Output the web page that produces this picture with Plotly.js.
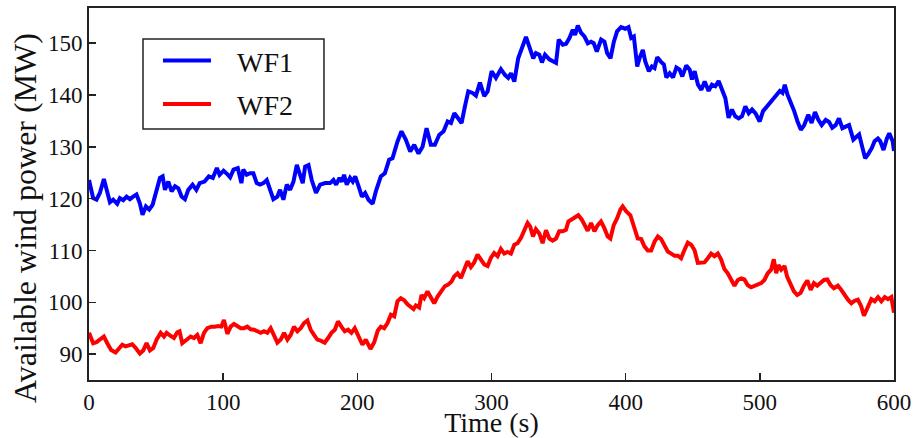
<!DOCTYPE html>
<html>
<head>
<meta charset="utf-8">
<script src="https://cdn.plot.ly/plotly-3.0.1.min.js"></script>
<style>html,body{margin:0;padding:0;background:#fff;}#chart{width:917px;height:438px;}</style>
</head>
<body>
<div id="chart"></div>
<script>
// Time (s) and available power (MW) for wind farm 1
const timeWF1 = [
  0, 3.1, 5.6, 8.1, 11.1, 13.1, 15.6, 18.0, 21.0, 23.0,
  25.5, 28.0, 30.5, 32.9, 35.4, 37.9, 39.9, 42.4, 44.9, 47.4,
  50.4, 52.9, 54.9, 56.6, 59.1, 61.6, 64.1, 66.6, 69.0, 71.5,
  74.0, 77.2, 80.0, 82.5, 86.1, 89.3, 92.3, 95.3, 97.3, 100.3,
  102.8, 105.2, 107.7, 110.9, 113.6, 115.0, 117.5, 120.0, 122.5, 125.0,
  127.5, 130.0, 132.5, 135.0, 137.4, 140.4, 142.4, 144.9, 147.4, 149.9,
  152.4, 154.9, 157.3, 159.3, 161.1, 163.6, 166.0, 169.2, 172.3, 176.0,
  179.7, 182.2, 184.2, 186.7, 188.4, 190.1, 192.1, 194.6, 196.6, 198.4,
  200.9, 203.4, 205.8, 208.3, 211.4, 213.8, 217.5, 220.5, 223.7, 226.2,
  229.9, 232.9, 236.1, 239.4, 242.4, 245.6, 248.6, 251.6, 254.8, 257.8,
  261.0, 264.3, 267.3, 269.8, 272.3, 274.7, 277.7, 280.2, 282.7, 285.9,
  288.4, 291.4, 294.6, 297.1, 300.1, 303.3, 307.0, 310.0, 312.5, 314.5,
  317.0, 319.9, 323.2, 325.7, 328.1, 331.1, 333.1, 335.6, 337.6, 339.9,
  343.1, 345.6, 348.1, 350.1, 353.1, 355.6, 358.1, 360.6, 362.3, 364.3,
  366.8, 369.3, 371.8, 374.2, 376.2, 378.5, 381.7, 384.2, 386.2, 388.7,
  391.2, 393.6, 396.6, 399.6, 402.1, 404.1, 406.1, 408.6, 410.3, 412.8,
  414.6, 417.3, 419.5, 421.5, 423.5, 426.0, 428.5, 430.3, 432.8, 435.3,
  437.8, 440.2, 442.2, 445.2, 447.7, 449.4, 451.4, 453.9, 456.4, 458.9,
  461.8, 464.3, 466.8, 469.3, 471.8, 474.3, 476.7, 479.2, 481.7, 484.2,
  486.7, 489.2, 491.7, 494.2, 496.7, 499.9, 502.4, 505.4, 508.6, 511.6,
  514.9, 516.9, 518.6, 520.6, 523.1, 525.6, 528.1, 530.6, 533.1, 536.1,
  538.6, 541.1, 543.6, 546.1, 549.1, 551.6, 554.0, 556.5, 559.0, 561.5,
  564.0, 566.5, 569.7, 572.2, 574.0, 576.5, 578.5, 581.0, 583.5, 585.5,
  588.0, 589.7, 592.2, 594.7, 596.5, 599.0, 600
];
const powerWF1 = [
  123.6, 120.1, 119.8, 121.1, 123.8, 121.7, 119.3, 119.8, 119.0, 120.1,
  119.7, 120.4, 119.9, 120.4, 120.8, 119.1, 116.9, 118.5, 117.9, 118.8,
  121.7, 124.0, 124.3, 121.7, 123.3, 121.4, 122.4, 122.0, 120.4, 119.9,
  121.7, 122.7, 121.7, 123.0, 123.3, 124.3, 124.0, 125.9, 124.6, 125.4,
  124.8, 124.1, 125.6, 125.9, 123.0, 125.6, 124.6, 124.9, 124.9, 123.0,
  122.7, 123.0, 123.6, 121.4, 119.9, 120.4, 121.7, 119.8, 122.7, 121.7,
  123.3, 126.5, 124.3, 123.0, 126.2, 126.5, 123.6, 121.1, 122.7, 123.0,
  123.0, 123.6, 122.7, 124.0, 123.3, 124.6, 122.7, 124.0, 123.3, 124.3,
  122.4, 120.4, 121.1, 119.8, 119.0, 121.4, 124.3, 124.9, 127.5, 127.8,
  131.0, 133.0, 131.4, 129.1, 130.4, 128.7, 130.0, 133.6, 130.4, 130.4,
  132.3, 133.0, 134.9, 134.6, 136.5, 135.5, 134.6, 137.8, 140.7, 140.4,
  139.9, 142.4, 139.8, 140.7, 144.6, 143.3, 145.0, 143.9, 143.3, 144.2,
  142.6, 147.1, 149.4, 151.2, 149.4, 147.1, 148.1, 147.8, 146.3, 147.8,
  146.9, 146.5, 146.2, 150.7, 149.7, 149.9, 151.0, 152.6, 151.6, 153.4,
  152.0, 151.3, 150.0, 150.3, 150.0, 148.4, 150.7, 150.3, 148.1, 147.1,
  150.3, 152.3, 153.1, 152.8, 153.1, 151.0, 151.3, 145.5, 147.1, 148.7,
  146.5, 144.6, 145.5, 145.2, 147.3, 146.5, 145.9, 143.4, 144.2, 143.4,
  145.3, 144.9, 143.6, 145.7, 144.9, 143.0, 144.6, 142.0, 141.0, 142.6,
  140.8, 142.0, 141.7, 142.7, 141.0, 139.4, 135.6, 137.2, 135.9, 135.5,
  135.9, 137.8, 136.5, 137.2, 136.5, 134.9, 136.9, 137.8, 138.8, 139.7,
  140.8, 140.4, 142.0, 140.1, 138.6, 136.9, 134.9, 133.3, 134.2, 136.2,
  134.6, 136.7, 135.2, 134.2, 135.2, 134.8, 133.7, 134.2, 135.5, 133.6,
  133.9, 134.2, 131.4, 132.0, 132.4, 129.8, 127.8, 128.7, 129.8, 131.1,
  131.6, 131.1, 129.4, 131.6, 132.6, 131.1, 129.2
];

// Time (s) and available power (MW) for wind farm 2
const timeWF2 = [
  0, 3.1, 5.6, 8.1, 11.1, 13.6, 16.5, 19.8, 22.3, 24.8,
  27.2, 29.7, 32.2, 34.7, 37.9, 40.4, 42.9, 45.4, 47.9, 50.4,
  53.4, 55.9, 57.8, 60.3, 63.3, 65.8, 67.5, 69.5, 72.8, 75.8,
  78.2, 80.7, 83.2, 85.7, 88.2, 91.2, 93.7, 96.1, 98.6, 100.6,
  103.1, 105.6, 108.1, 110.6, 113.1, 115.5, 118.0, 120.5, 123.0, 125.5,
  127.9, 130.4, 132.9, 135.4, 137.9, 140.4, 142.9, 145.4, 147.9, 150.3,
  152.8, 155.3, 157.8, 160.3, 162.8, 165.2, 167.7, 170.2, 172.7, 175.7,
  178.2, 180.7, 183.2, 185.6, 188.1, 190.6, 193.1, 195.6, 198.1, 200.6,
  203.8, 206.3, 209.8, 212.6, 215.2, 217.5, 220.0, 222.5, 225.0, 227.5,
  229.9, 232.4, 234.9, 237.4, 239.9, 241.9, 243.6, 246.1, 247.8, 249.8,
  252.3, 254.8, 257.3, 259.8, 262.2, 265.2, 267.7, 270.2, 272.2, 274.7,
  277.2, 279.7, 282.2, 284.6, 287.1, 289.6, 292.1, 294.6, 297.1, 299.6,
  302.0, 304.5, 307.0, 309.5, 312.0, 314.5, 317.0, 319.4, 321.9, 324.4,
  326.9, 328.9, 330.9, 333.1, 335.6, 338.1, 340.6, 343.1, 345.6, 348.1,
  350.5, 353.0, 355.5, 357.3, 359.8, 362.2, 364.7, 367.2, 369.7, 371.7,
  374.2, 376.7, 379.2, 381.6, 384.1, 386.6, 388.6, 391.1, 393.6, 396.1,
  397.8, 400.3, 403.5, 406.5, 409.0, 411.6, 414.0, 416.5, 419.0, 421.5,
  424.0, 426.4, 428.9, 431.4, 433.9, 436.4, 438.9, 441.3, 443.8, 446.3,
  448.8, 451.3, 453.8, 456.2, 458.7, 461.2, 463.7, 466.2, 468.7, 471.1,
  473.6, 476.1, 478.6, 481.1, 483.6, 486.1, 488.5, 491.0, 493.5, 496.0,
  498.5, 501.0, 503.4, 505.9, 508.4, 510.4, 512.2, 513.9, 515.9, 518.4,
  520.4, 522.9, 525.4, 527.9, 530.4, 532.9, 535.4, 537.9, 540.3, 542.8,
  545.3, 547.8, 550.3, 552.8, 555.2, 558.2, 560.7, 563.2, 565.7, 568.2,
  570.6, 573.1, 575.6, 577.6, 580.1, 583.1, 585.6, 588.1, 590.6, 593.1,
  595.5, 598.0, 600
];
const powerWF2 = [
  94.1, 92.1, 92.3, 92.8, 93.4, 92.1, 90.8, 90.3, 91.2, 91.8,
  91.5, 91.8, 91.9, 91.2, 90.1, 90.7, 92.1, 90.7, 91.2, 92.8,
  94.1, 93.4, 94.1, 93.6, 93.1, 94.2, 94.4, 92.1, 92.8, 93.4,
  93.1, 93.7, 92.1, 94.1, 95.0, 95.3, 95.3, 95.4, 95.3, 96.6,
  93.9, 95.3, 95.8, 95.3, 95.0, 95.0, 95.3, 94.8, 94.7, 94.4,
  94.1, 94.4, 94.1, 95.0, 93.6, 92.2, 92.8, 94.1, 92.8, 93.7,
  95.3, 94.4, 95.0, 96.0, 96.5, 94.7, 93.7, 92.8, 92.6, 92.2,
  93.1, 94.1, 94.7, 96.3, 95.3, 94.4, 94.7, 94.1, 95.0, 93.7,
  91.8, 92.8, 91.0, 92.3, 94.5, 95.3, 95.0, 96.0, 97.6, 97.3,
  100.2, 100.8, 100.4, 99.6, 99.2, 98.7, 99.4, 99.0, 101.4, 100.8,
  102.1, 100.8, 99.8, 101.1, 101.9, 103.1, 103.4, 104.0, 105.0, 105.6,
  104.7, 106.3, 107.9, 106.8, 107.7, 109.2, 108.3, 107.3, 107.0, 108.6,
  109.5, 108.9, 110.3, 109.4, 109.7, 109.4, 111.1, 111.4, 112.4, 113.7,
  115.3, 114.6, 112.7, 114.1, 113.3, 111.4, 113.9, 112.3, 111.9, 112.3,
  113.7, 113.7, 114.0, 115.6, 116.0, 116.6, 116.8, 116.0, 114.9, 113.8,
  115.3, 113.7, 114.9, 115.6, 114.3, 112.7, 112.3, 114.9, 116.2, 117.9,
  118.5, 117.6, 116.8, 114.3, 112.3, 112.2, 110.8, 110.0, 110.0, 111.7,
  112.7, 112.2, 111.1, 109.8, 109.4, 109.0, 109.0, 108.5, 110.1, 111.5,
  111.1, 110.1, 107.6, 107.6, 107.7, 108.5, 109.4, 108.9, 109.4, 108.3,
  106.4, 105.6, 104.3, 103.2, 104.3, 104.6, 104.4, 103.3, 102.9, 103.2,
  103.6, 103.7, 104.3, 105.6, 106.3, 108.3, 105.6, 107.2, 106.3, 107.0,
  104.9, 103.6, 102.1, 101.4, 101.8, 103.2, 104.2, 102.4, 103.7, 103.2,
  103.7, 104.3, 104.4, 103.3, 102.7, 103.2, 102.4, 101.4, 100.5, 99.8,
  100.3, 100.5, 99.2, 97.4, 98.9, 100.6, 100.2, 101.0, 100.2, 101.0,
  100.6, 101.0, 98.0
];

const seriesNames = ["WF1", "WF2"];
const xTickVals = [0, 100, 200, 300, 400, 500, 600];
const yTickVals = [90, 100, 110, 120, 130, 140, 150];
const xTitle = "Time (s)";
const yTitle = "Available wind power (MW)";

const FONT = "'Liberation Serif', 'Times New Roman', serif";
const NBSP = "\u00a0\u00a0\u00a0";

const traces = [
  {x: timeWF1, y: powerWF1, name: NBSP + seriesNames[0], legendgroup: "g1", type: "scatter", mode: "lines",
   line: {color: "#0000ff", width: 4}},
  {x: timeWF2, y: powerWF2, name: NBSP + seriesNames[1], legendgroup: "g2", type: "scatter", mode: "lines",
   line: {color: "#ff0000", width: 4}}
];

const axisCommon = {
  showgrid: false, zeroline: false, showline: true, linecolor: "#222", linewidth: 2,
  mirror: true, ticks: "inside", ticklen: 7, tickwidth: 1.5, tickcolor: "#222",
  tickfont: {family: FONT, size: 23, color: "#111"}, automargin: false
};

const layout = {
  width: 917, height: 438,
  margin: {l: 89, r: 23, t: 8, b: 58},
  paper_bgcolor: "#fff", plot_bgcolor: "#fff",
  font: {family: FONT, color: "#111"},
  showlegend: true,
  legend: {
    x: 0.0857, y: 0.925, xanchor: "left", yanchor: "top",
    borderwidth: 0, bgcolor: "rgba(0,0,0,0)",
    font: {family: FONT, size: 28, color: "#111"},
    itemwidth: 48, traceorder: "grouped", tracegroupgap: 4
  },
  shapes: [{
    type: "rect", xref: "paper", yref: "paper",
    x0: 0.0671, x1: 0.2919, y0: 0.6747, y1: 0.9167,
    line: {color: "#222", width: 1.5}, fillcolor: "rgba(255,255,255,0)", layer: "above"
  }],
  annotations: [{
    text: yTitle, xref: "paper", yref: "paper", x: -0.0795, y: 0.4355,
    xanchor: "center", yanchor: "middle", textangle: -90, showarrow: false,
    font: {family: FONT, size: 32, color: "#111"}
  }],
  xaxis: Object.assign({}, axisCommon, {
    range: [0, 600], tickvals: xTickVals,
    title: {text: xTitle, font: {family: FONT, size: 28, color: "#111"}, standoff: 8}
  }),
  yaxis: Object.assign({}, axisCommon, {
    range: [85, 156.8], tickvals: yTickVals
  })
};

Plotly.newPlot("chart", traces, layout, {displayModeBar: false, staticPlot: true});
</script>
</body>
</html>
